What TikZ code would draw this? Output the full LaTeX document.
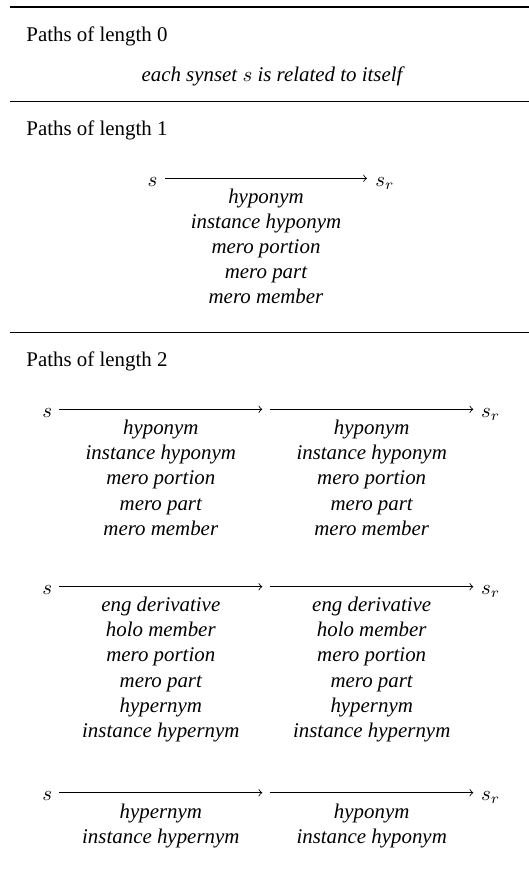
\documentclass[tikz,border=0pt]{standalone}
\usepackage{fontspec}
\setmainfont{Liberation Serif}
\newcommand\labcol[4]{%
  \foreach \t [count=\i from 0] in {#4}
    \node[lab] (#1-\i) at (#2, #3+25.08*\i) {\t};}
\begin{document}
\begin{tikzpicture}[x=0.4785pt,y=-0.4785pt,
  head/.style={anchor=base west, inner sep=0pt, font=\fontsize{10}{12}\selectfont},
  lab/.style={anchor=base, inner sep=0pt, font=\fontsize{10}{12}\selectfont\itshape},
  svar/.style={anchor=base, inner sep=0pt},
  srvar/.style={anchor=base west, inner sep=0pt},
  arr/.style={->, line width=0.4pt},
  toprule/.style={line width=0.9pt},
  midrule/.style={line width=0.6pt}]
\useasboundingbox (0,0) rectangle (529,874);
% rules
\draw[toprule] (10,7.2) -- (529,7.2);
\draw[midrule] (10,101.5) -- (529,101.5);
\draw[midrule] (10,332.5) -- (529,332.5);
% length 0
\node[head] (h0) at (26,41) {Paths of length 0};
\node[lab] (t0) at (272,81) {each synset $s$ is related to itself};
% length 1
\node[head] (h1) at (26,135) {Paths of length 1};
\node[svar] (s1) at (152.5,186) {$s$};
\node[srvar] (r1) at (375,186) {$s_r$};
\coordinate (a1s) at (165,178.3);
\coordinate (a1e) at (367,178.3);
\draw[arr] (a1s) -- (a1e);
\labcol{L1}{266}{203.3}{hyponym,instance hyponym,mero portion,mero part,mero member}
% length 2
\node[head] (h2) at (26,366.7) {Paths of length 2};
% row 1
\node[svar] (s2) at (47.2,417) {$s$};
\node[srvar] (r2) at (480.7,417) {$s_r$};
\coordinate (b1s) at (59.3,409.3);
\coordinate (b1e) at (262.3,409.3);
\coordinate (b2s) at (270,409.3);
\coordinate (b2e) at (473.3,409.3);
\draw[arr] (b1s) -- (b1e);
\draw[arr] (b2s) -- (b2e);
\labcol{A1}{160.8}{434.8}{hyponym,instance hyponym,mero portion,mero part,mero member}
\labcol{A2}{371.7}{434.8}{hyponym,instance hyponym,mero portion,mero part,mero member}
% row 2
\node[svar] (s3) at (47.2,594.4) {$s$};
\node[srvar] (r3) at (480.7,594.4) {$s_r$};
\coordinate (c1s) at (59.3,586.7);
\coordinate (c1e) at (262.3,586.7);
\coordinate (c2s) at (270,586.7);
\coordinate (c2e) at (473.3,586.7);
\draw[arr] (c1s) -- (c1e);
\draw[arr] (c2s) -- (c2e);
\labcol{B1}{160.8}{611.8}{eng derivative,holo member,mero portion,mero part,hypernym,instance hypernym}
\labcol{B2}{371.7}{611.8}{eng derivative,holo member,mero portion,mero part,hypernym,instance hypernym}
% row 3
\node[svar] (s4) at (47.2,800.4) {$s$};
\node[srvar] (r4) at (480.7,800.4) {$s_r$};
\coordinate (d1s) at (59.3,792.7);
\coordinate (d1e) at (262.3,792.7);
\coordinate (d2s) at (270,792.7);
\coordinate (d2e) at (473.3,792.7);
\draw[arr] (d1s) -- (d1e);
\draw[arr] (d2s) -- (d2e);
\labcol{C1}{160.8}{818}{hypernym,instance hypernym}
\labcol{C2}{371.7}{818}{hyponym,instance hyponym}
\end{tikzpicture}
\end{document}
